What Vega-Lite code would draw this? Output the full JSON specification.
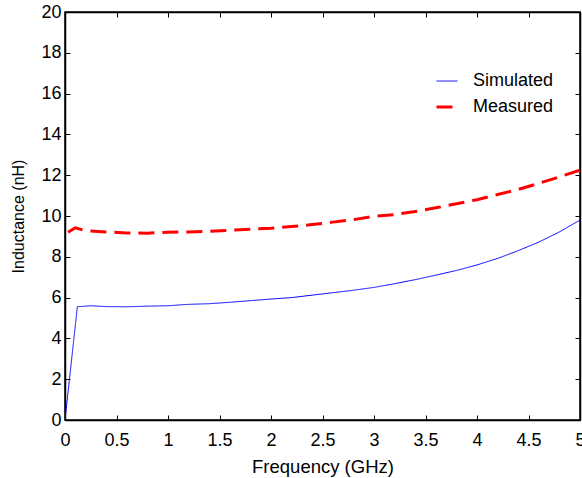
{
  "$schema": "https://vega.github.io/schema/vega-lite/v6.json",
  "width": 515,
  "height": 408,
  "autosize": {"type": "none"},
  "padding": {"left": 65, "top": 12, "right": 2, "bottom": 58},
  "background": "white",
  "config": {
    "view": {"stroke": "black", "strokeWidth": 1.5},
    "font": "Liberation Sans",
    "axis": {"grid": false, "domainColor": "black", "domainWidth": 1.5, "tickColor": "black", "tickSize": -5, "tickWidth": 1, "labelFontSize": 18, "labelColor": "black", "titleFontSize": 16, "titleFontWeight": "normal", "titleColor": "black", "format": "~g"}
  },
  "data": {"values": [
    {"f": 0.0, "L": 0.0, "s": "Simulated"},
    {"f": 0.12, "L": 5.55, "s": "Simulated"},
    {"f": 0.25, "L": 5.6, "s": "Simulated"},
    {"f": 0.4, "L": 5.56, "s": "Simulated"},
    {"f": 0.6, "L": 5.55, "s": "Simulated"},
    {"f": 0.8, "L": 5.58, "s": "Simulated"},
    {"f": 1.0, "L": 5.6, "s": "Simulated"},
    {"f": 1.2, "L": 5.67, "s": "Simulated"},
    {"f": 1.4, "L": 5.7, "s": "Simulated"},
    {"f": 1.6, "L": 5.77, "s": "Simulated"},
    {"f": 1.8, "L": 5.85, "s": "Simulated"},
    {"f": 2.0, "L": 5.93, "s": "Simulated"},
    {"f": 2.2, "L": 6.0, "s": "Simulated"},
    {"f": 2.4, "L": 6.12, "s": "Simulated"},
    {"f": 2.6, "L": 6.24, "s": "Simulated"},
    {"f": 2.8, "L": 6.36, "s": "Simulated"},
    {"f": 3.0, "L": 6.5, "s": "Simulated"},
    {"f": 3.2, "L": 6.68, "s": "Simulated"},
    {"f": 3.4, "L": 6.88, "s": "Simulated"},
    {"f": 3.6, "L": 7.1, "s": "Simulated"},
    {"f": 3.8, "L": 7.33, "s": "Simulated"},
    {"f": 4.0, "L": 7.6, "s": "Simulated"},
    {"f": 4.2, "L": 7.92, "s": "Simulated"},
    {"f": 4.4, "L": 8.3, "s": "Simulated"},
    {"f": 4.6, "L": 8.72, "s": "Simulated"},
    {"f": 4.8, "L": 9.22, "s": "Simulated"},
    {"f": 5.0, "L": 9.8, "s": "Simulated"},
    {"f": 0.03, "L": 9.2, "s": "Measured"},
    {"f": 0.1, "L": 9.42, "s": "Measured"},
    {"f": 0.2, "L": 9.28, "s": "Measured"},
    {"f": 0.4, "L": 9.22, "s": "Measured"},
    {"f": 0.6, "L": 9.17, "s": "Measured"},
    {"f": 0.8, "L": 9.16, "s": "Measured"},
    {"f": 1.0, "L": 9.2, "s": "Measured"},
    {"f": 1.2, "L": 9.22, "s": "Measured"},
    {"f": 1.4, "L": 9.25, "s": "Measured"},
    {"f": 1.6, "L": 9.3, "s": "Measured"},
    {"f": 1.8, "L": 9.35, "s": "Measured"},
    {"f": 2.0, "L": 9.4, "s": "Measured"},
    {"f": 2.2, "L": 9.48, "s": "Measured"},
    {"f": 2.4, "L": 9.58, "s": "Measured"},
    {"f": 2.6, "L": 9.7, "s": "Measured"},
    {"f": 2.8, "L": 9.82, "s": "Measured"},
    {"f": 3.0, "L": 9.98, "s": "Measured"},
    {"f": 3.2, "L": 10.07, "s": "Measured"},
    {"f": 3.4, "L": 10.22, "s": "Measured"},
    {"f": 3.6, "L": 10.4, "s": "Measured"},
    {"f": 3.8, "L": 10.6, "s": "Measured"},
    {"f": 4.0, "L": 10.8, "s": "Measured"},
    {"f": 4.2, "L": 11.05, "s": "Measured"},
    {"f": 4.4, "L": 11.3, "s": "Measured"},
    {"f": 4.6, "L": 11.6, "s": "Measured"},
    {"f": 4.8, "L": 11.92, "s": "Measured"},
    {"f": 5.0, "L": 12.25, "s": "Measured"}
  ]},
  "layer": [
    {
      "mark": {"type": "line", "clip": true},
      "encoding": {
        "x": {"field": "f", "type": "quantitative", "scale": {"domain": [0, 5], "nice": false, "zero": false},
              "axis": {"orient": "bottom", "values": [0,0.5,1,1.5,2,2.5,3,3.5,4,4.5,5], "title": "Frequency (GHz)", "titleFontSize": 18.5, "labelPadding": 16, "titlePadding": 8, "labelFlush": false}},
        "y": {"field": "L", "type": "quantitative", "scale": {"domain": [0, 20], "nice": false},
              "axis": {"orient": "left", "values": [0,2,4,6,8,10,12,14,16,18,20], "title": "Inductance (nH)", "labelPadding": 9, "titlePadding": 14}},
        "color": {"field": "s", "type": "nominal", "sort": ["Simulated", "Measured"],
                  "scale": {"domain": ["Simulated", "Measured"], "range": ["#0000ff", "#ff0000"]},
                  "legend": {"title": null, "orient": "none", "legendX": 370, "legendY": 58, "symbolType": "stroke", "symbolSize": 441, "labelFontSize": 18, "labelColor": "black", "rowPadding": 5, "labelOffset": 14}},
        "strokeWidth": {"field": "s", "type": "nominal", "sort": ["Simulated", "Measured"],
                  "scale": {"domain": ["Simulated", "Measured"], "range": [1, 3]},
                  "legend": {"title": null, "orient": "none", "legendX": 370, "legendY": 58, "symbolType": "stroke", "symbolSize": 441, "labelFontSize": 18, "labelColor": "black", "rowPadding": 5, "labelOffset": 14}},
        "strokeDash": {"field": "s", "type": "nominal",
                  "scale": {"domain": ["Simulated", "Measured"], "range": [[1, 0], [16, 8]]},
                  "legend": null}
      }
    },
    {
      "mark": {"type": "line", "opacity": 0},
      "encoding": {
        "x": {"field": "f", "type": "quantitative", "scale": {"domain": [0, 5], "nice": false, "zero": false},
              "axis": {"orient": "top", "values": [0,0.5,1,1.5,2,2.5,3,3.5,4,4.5,5], "labels": false, "title": null}},
        "y": {"field": "L", "type": "quantitative", "scale": {"domain": [0, 20], "nice": false},
              "axis": {"orient": "right", "values": [0,2,4,6,8,10,12,14,16,18,20], "labels": false, "title": null}}
      }
    }
  ],
  "resolve": {"axis": {"x": "independent", "y": "independent"}}
}
